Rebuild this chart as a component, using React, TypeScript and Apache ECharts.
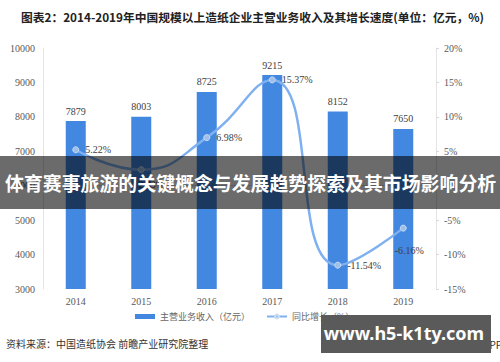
import React, { useEffect, useRef } from "react";
import * as echarts from "echarts";

const years = ["2014", "2015", "2016", "2017", "2018", "2019"];
const revenue = [7879, 8003, 8725, 9215, 8152, 7650];
const growth = [5.22, 2.33, 6.98, 15.37, -11.54, -6.16];
const leftTicks = { min: 3000, max: 10000, interval: 1000 };
const rightTicks = { min: -15, max: 20, interval: 5 };

const serif = "Liberation Serif, Times New Roman, serif";
const cjk = "'Noto Sans CJK SC', sans-serif";

export default function App() {
  const ref = useRef<HTMLDivElement>(null);
  useEffect(() => {
    const chart = echarts.init(ref.current!, null, { renderer: "svg" });
    chart.setOption({
      animation: false,
      backgroundColor: "#fff",
      grid: { left: 43, right: 64, top: 48, bottom: 73 },
      legend: {
        left: 130,
        top: 307,
        itemGap: 16,
        itemWidth: 20,
        itemHeight: 5,
        textStyle: { color: "#666", fontSize: 9, fontFamily: cjk },
        data: [
          { name: "主营业务收入（亿元）", icon: "rect" },
          { name: "同比增长（%）" },
        ],
      },
      xAxis: {
        type: "category",
        data: years,
        axisLine: { lineStyle: { color: "#d9d9d9" } },
        axisTick: { show: false },
        axisLabel: { color: "#595959", fontSize: 10, fontFamily: serif, margin: 7 },
      },
      yAxis: [
        {
          type: "value",
          min: leftTicks.min,
          max: leftTicks.max,
          interval: leftTicks.interval,
          axisLine: { show: true, lineStyle: { color: "#e3e3e3" } },
          axisTick: { show: false },
          splitLine: { show: false },
          axisLabel: {
            color: "#595959",
            fontSize: 10,
            fontFamily: serif,
            margin: 8,
            formatter: (v: number) => String(v),
          },
        },
        {
          type: "value",
          min: rightTicks.min,
          max: rightTicks.max,
          interval: rightTicks.interval,
          position: "right",
          axisLine: { show: true, lineStyle: { color: "#e3e3e3" } },
          axisTick: { show: true, length: 3, lineStyle: { color: "#d9d9d9" } },
          splitLine: { show: false },
          axisLabel: {
            color: "#595959",
            fontSize: 10,
            fontFamily: serif,
            margin: 8,
            formatter: (v: number) => v + "%",
          },
        },
      ],
      series: [
        {
          name: "主营业务收入（亿元）",
          type: "bar",
          data: revenue,
          barWidth: 20,
          itemStyle: { color: "#4287e0" },
          label: {
            show: true,
            position: "top",
            distance: 5,
            color: "#404040",
            fontSize: 10,
            fontFamily: serif,
          },
        },
        {
          name: "同比增长（%）",
          type: "line",
          yAxisIndex: 1,
          data: growth.map((v, i) =>
            i === 5
              ? { value: v, label: { position: "bottom", offset: [6, 8] } }
              : i === 1
              ? { value: v, label: { position: "bottom", offset: [10, 0] } }
              : { value: v }
          ),
          smooth: 0.5,
          symbol: "circle",
          symbolSize: 6,
          lineStyle: { color: "#7fb0ef", width: 2.5 },
          itemStyle: { color: "#9dbfe8", borderColor: "#c9dcf3", borderWidth: 1 },
          label: {
            show: true,
            position: "right",
            distance: 6,
            color: "#404040",
            fontSize: 10,
            fontFamily: serif,
            formatter: (p: any) => p.value.toFixed(2) + "%",
          },
        },
      ],
      graphic: [
        {
          type: "text",
          z: 100,
          x: 21,
          y: 16,
          style: {
            text: "图表2：2014-2019年中国规模以上造纸企业主营业务收入及其增长速度(单位：亿元，%)",
            font: "bold 11.75px " + cjk,
            fill: "#222",
            verticalAlign: "middle",
          },
        },
        {
          type: "rect",
          z: 100,
          shape: { x: 0, y: 156, width: 500, height: 53 },
          style: { fill: "rgba(0,0,0,0.58)" },
        },
        {
          type: "text",
          z: 101,
          x: 5,
          y: 182,
          style: {
            text: "体育赛事旅游的关键概念与发展趋势探索及其市场影响分析",
            font: "bold 18.9px " + cjk,
            fill: "#fff",
            verticalAlign: "middle",
          },
        },
        {
          type: "text",
          z: 100,
          x: 6,
          y: 343,
          style: {
            text: "资料来源：中国造纸协会 前瞻产业研究院整理",
            font: "10px " + cjk,
            fill: "#333",
            verticalAlign: "middle",
          },
        },
        {
          type: "text",
          z: 100,
          x: 414,
          y: 344,
          style: {
            text: "@前瞻经济学人APP",
            font: "10px " + cjk,
            fill: "#333",
            verticalAlign: "middle",
          },
        },
        {
          type: "rect",
          z: 101,
          shape: { x: 321, y: 315, width: 170, height: 38 },
          style: { fill: "#5a5a5a" },
        },
        {
          type: "text",
          z: 102,
          x: 404,
          y: 333,
          style: {
            text: "www.h5-k1ty.com",
            font: "bold 18px 'Noto Sans', sans-serif",
            fill: "#fff",
            align: "center",
            verticalAlign: "middle",
          },
        },
      ],
    });
    return () => chart.dispose();
  }, []);
  return (
    <div
      ref={ref}
      style={{ position: "absolute", left: 0, top: 0, width: 500, height: 362 }}
    />
  );
}
